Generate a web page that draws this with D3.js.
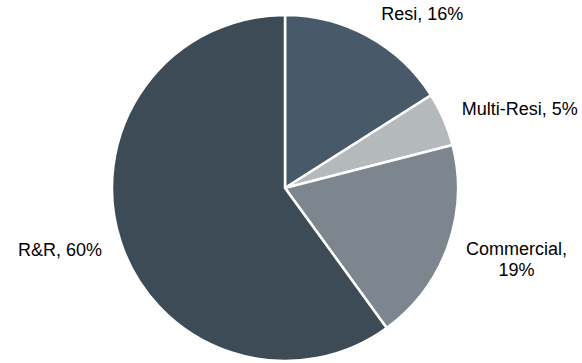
<!DOCTYPE html>
<html>
<head>
<meta charset="utf-8">
<script src="https://cdn.jsdelivr.net/npm/d3@7"></script>
<style>
  html, body { margin: 0; padding: 0; background: #fff; }
  svg { display: block; }
  text { font-family: "Liberation Sans", Arial, sans-serif; font-size: 18px; fill: #000; }
</style>
</head>
<body>
<svg id="chart" width="582" height="363"></svg>
<script>
// Segment shares (%), clockwise from 12 o'clock
const categories = ["Resi", "Multi-Resi", "Commercial", "R&R"];
const shares = [16, 5, 19, 60];
const colors = ["#485a69", "#b4b9bc", "#7d868e", "#3c4b56"];
// Label lines per segment
const labelLines = [["Resi, 16%"], ["Multi-Resi, 5%"], ["Commercial,", "19%"], ["R&R, 60%"]];

const W = 582, H = 363;
const cx = 285, cy = 188, R = 173;

const svg = d3.select("#chart");
const g = svg.append("g").attr("transform", `translate(${cx},${cy})`);

const data = categories.map((c, i) => ({ name: c, value: shares[i], color: colors[i], lines: labelLines[i] }));

const pie = d3.pie().value(d => d.value).sort(null);
const arc = d3.arc().innerRadius(0).outerRadius(R);
const arcs = pie(data);

g.selectAll("path.slice")
  .data(arcs)
  .join("path")
  .attr("class", "slice")
  .attr("d", arc)
  .attr("fill", d => d.data.color)
  .attr("stroke", "#fff")
  .attr("stroke-width", 2.5)
  .attr("stroke-linejoin", "miter");

// Outside-end labels placed beside each slice's mid angle
const lineH = 21;
const labelR = R + 12;
arcs.forEach(a => {
  const mid = (a.startAngle + a.endAngle) / 2;
  const px = Math.sin(mid) * labelR;
  const py = -Math.cos(mid) * labelR;
  const t = g.append("text").attr("text-anchor", "middle");
  a.data.lines.forEach((ln, i) => {
    t.append("tspan").attr("x", 0).attr("dy", i === 0 ? 0 : lineH).text(ln);
  });
  const bb = t.node().getBBox();
  const w = bb.width, h = a.data.lines.length * lineH;
  const side = Math.sin(mid) >= 0 ? 1 : -1;
  const ccx = px + side * (w / 2 + 7);
  const ccy = py - Math.cos(mid) * (h / 2 + 4);
  // first baseline so the block is vertically centred on ccy
  const firstBase = ccy - h / 2 + lineH * 0.5 + 6.5;
  t.attr("transform", `translate(${ccx},${firstBase})`);
  t.selectAll("tspan").attr("x", 0);
});
</script>
</body>
</html>
